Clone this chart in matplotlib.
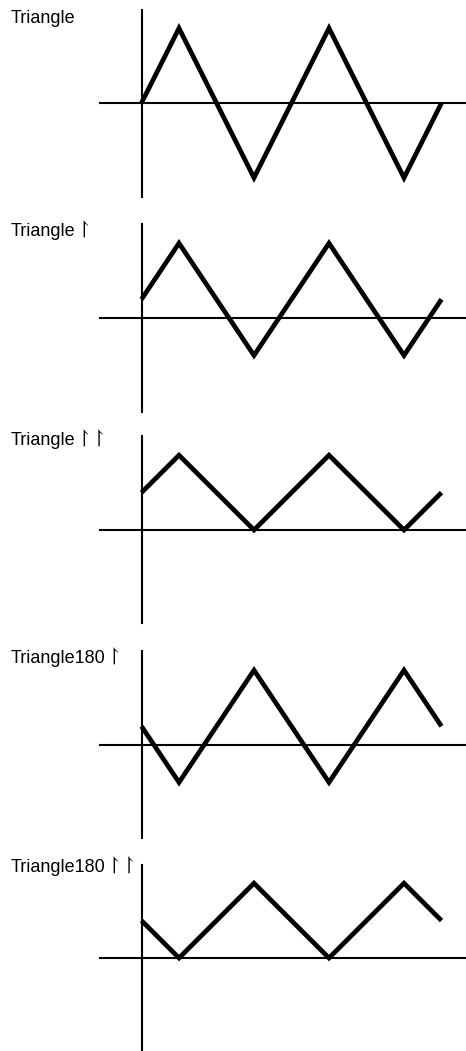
import matplotlib
matplotlib.use("Agg")
import matplotlib.pyplot as plt

# x positions in periods
x_pts = [0, 0.25, 0.75, 1.25, 1.75, 2.0]
tri = [0, 1, -1, 1, -1, 0]
tri_up = [0.25, 1, -0.5, 1, -0.5, 0.25]
tri_upup = [0.5, 1, 0, 1, 0, 0.5]
tri180_up = [0.25, -0.5, 1, -0.5, 1, 0.25]
tri180_upup = [0.5, 0, 1, 0, 1, 0.5]

label_names = ["Triangle", "Triangle", "Triangle", "Triangle180", "Triangle180"]
label_marks = ["", "\u21be", "\u21be\u21be", "\u21be", "\u21be\u21be"]
series = [tri, tri_up, tri_upup, tri180_up, tri180_upup]

W, H = 466, 1051
fig = plt.figure(figsize=(W / 100, H / 100), dpi=100)
renderer = fig.canvas.get_renderer()

zeros = [103, 318, 530, 745, 958]
label_base = [23, 236, 445, 663, 872]
half = 93.5
left_px, right_px = 100, 466
x0_px, per_px = 141.5, 150.0

for name, mark, ys, z, lb in zip(label_names, label_marks, series, zeros, label_base):
    top = z - half
    bottom = z + half
    ax = fig.add_axes([left_px / W, 1 - bottom / H, (right_px - left_px) / W, (bottom - top) / H])
    ax.set_xlim((left_px - x0_px) / per_px, (right_px - x0_px) / per_px)
    ax.set_ylim(-1.25, 1.25)
    ax.patch.set_visible(False)
    for s in ["top", "right"]:
        ax.spines[s].set_visible(False)
    ax.spines["left"].set_position(("data", 0))
    ax.spines["bottom"].set_position(("data", 0))
    ax.spines["left"].set_linewidth(1.5)
    ax.spines["bottom"].set_linewidth(1.5)
    ax.set_xticks([])
    ax.set_yticks([])
    ax.plot(x_pts, ys, color="black", lw=3.4, solid_joinstyle="miter",
            solid_capstyle="butt", clip_on=False)
    t = fig.text(11 / W, 1 - lb / H, name, ha="left", va="baseline",
                 fontsize=13, family="Liberation Sans")
    if mark:
        ext = t.get_window_extent(renderer)
        fig.text((ext.x1 + 3) / W, 1 - (lb - 1) / H, "\u2009".join(mark),
                 ha="left", va="baseline", fontsize=15,
                 family=["STIXGeneral", "DejaVu Sans"])

fig.savefig("out.png", dpi=100)
